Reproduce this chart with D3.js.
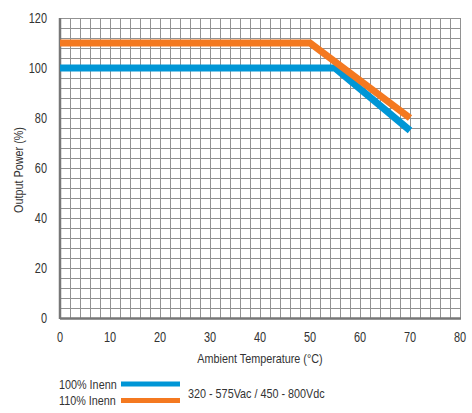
<!DOCTYPE html>
<html>
<head>
<meta charset="utf-8">
<script src="https://cdn.jsdelivr.net/npm/d3@7"></script>
<style>
  body { margin: 0; background: #fff; }
  svg text { font-family: "Liberation Sans", Arial, sans-serif; fill: #333; }
</style>
</head>
<body>
<div id="chart"></div>
<script>
// derating curves
const tempFull = [0, 55, 70];
const powerFull = [100, 100, 75];
const tempBoost = [0, 50, 70];
const powerBoost = [110, 110, 80];
const xTicks = [0, 10, 20, 30, 40, 50, 60, 70, 80];
const yTicks = [0, 20, 40, 60, 80, 100, 120];
const legendLabels = ["100% Inenn", "110% Inenn"];
const inputRange = "320 - 575Vac / 450 - 800Vdc";

const W = 472, H = 413;
const margin = { top: 18, left: 60, right: 12, bottom: 95 };
const width = W - margin.left - margin.right;
const height = H - margin.top - margin.bottom;

// squeeze text to look like a condensed face
function condense(sel, k) {
  sel.each(function() {
    const w = this.getComputedTextLength();
    d3.select(this)
      .attr("textLength", w * k)
      .attr("lengthAdjust", "spacingAndGlyphs");
  });
}

const svg = d3.select("#chart").append("svg")
  .attr("width", W)
  .attr("height", H);

const g = svg.append("g")
  .attr("transform", "translate(" + margin.left + "," + margin.top + ")");

const x = d3.scaleLinear().domain([0, 80]).range([0, width]);
const y = d3.scaleLinear().domain([0, 120]).range([height, 0]);

// grid
g.append("g").selectAll("line")
  .data(d3.range(0, 81, 2))
  .enter().append("line")
  .attr("x1", d => x(d) + 0.5).attr("x2", d => x(d) + 0.5)
  .attr("y1", 0).attr("y2", height)
  .style("stroke", "#929292").style("stroke-width", 1);

g.append("g").selectAll("line")
  .data(d3.range(0, 121, 4))
  .enter().append("line")
  .attr("y1", d => y(d) + 0.5).attr("y2", d => y(d) + 0.5)
  .attr("x1", 0).attr("x2", width)
  .style("stroke", "#929292").style("stroke-width", 1);

// axes lines
g.append("line")
  .attr("x1", x(0)).attr("x2", x(0))
  .attr("y1", 0).attr("y2", height + 1)
  .style("stroke", "#777").style("stroke-width", 2.5);
g.append("line")
  .attr("x1", x(0)).attr("x2", width + 1)
  .attr("y1", y(0) + 0.5).attr("y2", y(0) + 0.5)
  .style("stroke", "#777").style("stroke-width", 2.5);

// tick labels
g.selectAll(".xlab")
  .data(xTicks)
  .enter().append("text")
  .attr("class", "xlab")
  .attr("x", d => x(d))
  .attr("y", height + 24)
  .attr("text-anchor", "middle")
  .style("font-size", "14px")
  .text(d => d)
  .call(condense, 0.78);

g.selectAll(".ylab")
  .data(yTicks)
  .enter().append("text")
  .attr("class", "ylab")
  .attr("x", -13)
  .attr("y", d => y(d) + 5)
  .attr("text-anchor", "end")
  .style("font-size", "14px")
  .text(d => d)
  .call(condense, 0.78);

// axis titles
g.append("text")
  .attr("x", width / 2)
  .attr("y", height + 45)
  .attr("text-anchor", "middle")
  .style("font-size", "13.5px")
  .text("Ambient Temperature (°C)")
  .call(condense, 0.8);

g.append("text")
  .attr("transform", "translate(-37," + (height / 2 + 2) + ") rotate(-90)")
  .attr("text-anchor", "middle")
  .style("font-size", "13.5px")
  .text("Output Power (%)")
  .call(condense, 0.8);

// curves
const line = d3.line()
  .x(d => x(d[0]))
  .y(d => y(d[1]));

g.append("path")
  .datum(d3.zip(tempFull, powerFull))
  .attr("d", line)
  .style("fill", "none")
  .style("stroke", "#0096d6")
  .style("stroke-width", 7);

g.append("path")
  .datum(d3.zip(tempBoost, powerBoost))
  .attr("d", line)
  .style("fill", "none")
  .style("stroke", "#f47920")
  .style("stroke-width", 7);

// legend
const colors = ["#0096d6", "#f47920"];
const leg = svg.append("g").attr("transform", "translate(59,384)");
leg.selectAll(".legt")
  .data(legendLabels)
  .enter().append("text")
  .attr("class", "legt")
  .attr("x", 0)
  .attr("y", (d, i) => i * 16.5 + 4.5)
  .style("font-size", "13.5px")
  .text(d => d)
  .call(condense, 0.8);
leg.selectAll(".legl")
  .data(legendLabels)
  .enter().append("line")
  .attr("class", "legl")
  .attr("x1", 62).attr("x2", 121)
  .attr("y1", (d, i) => i * 16.5)
  .attr("y2", (d, i) => i * 16.5)
  .style("stroke", (d, i) => colors[i])
  .style("stroke-width", 5);
leg.append("text")
  .attr("x", 129)
  .attr("y", 14)
  .style("font-size", "13.5px")
  .text(inputRange)
  .call(condense, 0.8);
</script>
</body>
</html>
